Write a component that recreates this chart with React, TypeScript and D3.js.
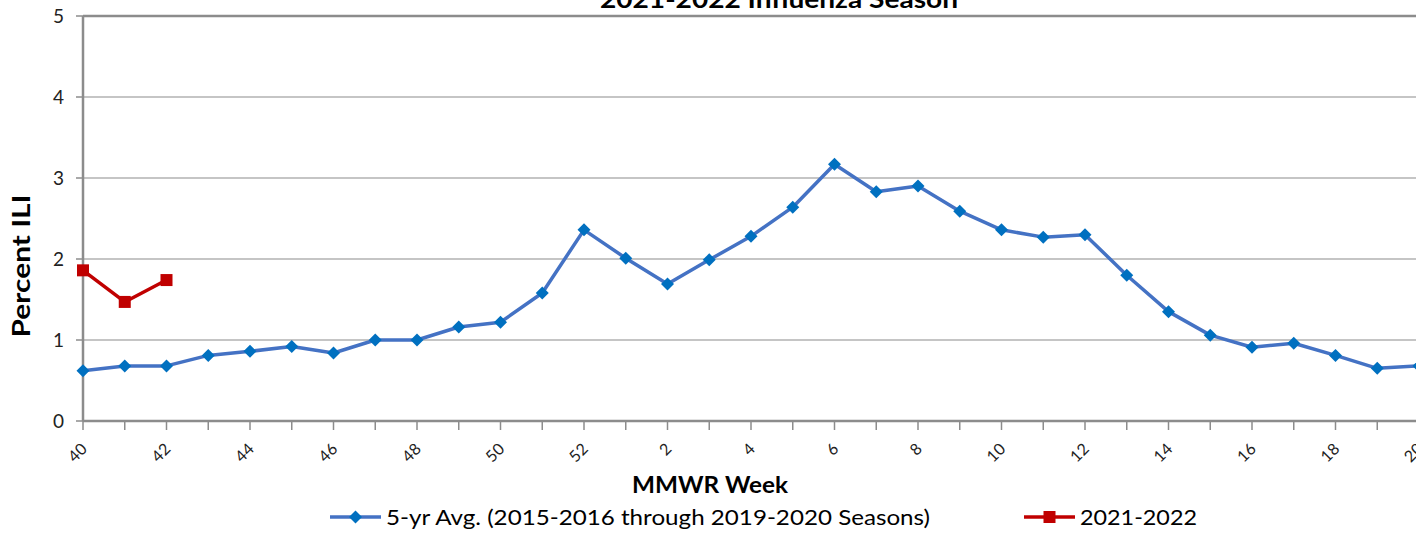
import React from "react";
import * as d3 from "d3";

const weeks: string[] = [
  "40","41","42","43","44","45","46","47","48","49","50","51","52",
  "1","2","3","4","5","6","7","8","9","10","11","12","13","14","15","16","17","18","19","20",
  "21","22","23","24","25","26","27","28","29","30","31","32","33","34","35","36","37","38","39",
];

const avgValues: number[] = [
  0.62, 0.68, 0.68, 0.81, 0.86, 0.92, 0.84, 1.0, 1.0, 1.16, 1.22, 1.58, 2.36,
  2.01, 1.69, 1.99, 2.28, 2.64, 3.17, 2.83, 2.9, 2.59, 2.36, 2.27, 2.3, 1.8,
  1.35, 1.06, 0.91, 0.96, 0.81, 0.65, 0.68,
];

const seasonValues: number[] = [1.86, 1.47, 1.74];

const yTicks: number[] = [0, 1, 2, 3, 4, 5];

const title = "2021-2022 Influenza Season";
const xTitle = "MMWR Week";
const yTitle = "Percent ILI";
const avgLabel = "5-yr Avg. (2015-2016 through 2019-2020 Seasons)";
const seasonLabel = "2021-2022";

const FONT = "Lato, 'Open Sans', 'Liberation Sans', sans-serif";
const GRID = "#8c8c8c";
const BLUE_LINE = "#4472C4";
const BLUE_MARK = "#0070C0";
const RED = "#C00000";

export default function App() {
  const W = 1416;
  const H = 533;
  const left = 83;
  const step = 41.75;
  const x = d3.scaleLinear().domain([0, weeks.length - 1]).range([left, left + step * (weeks.length - 1)]);
  const y = d3.scaleLinear().domain([0, 5]).range([421, 16]);

  const line = d3
    .line<number>()
    .x((_, i) => x(i))
    .y((d) => y(d));

  const diamond = (cx: number, cy: number, r: number) =>
    `M${cx},${cy - r}L${cx + r},${cy}L${cx},${cy + r}L${cx - r},${cy}Z`;

  return (
    <svg
      width={W}
      height={H}
      style={{ position: "absolute", left: 0, top: 0, background: "#fff" }}
      fontFamily={FONT}
    >
      <rect x={0} y={0} width={W} height={H} fill="#fff" />
      {/* title (cropped at top) */}
      <text x={779} y={8} textAnchor="middle" fontSize={24} fontWeight="bold" fill="#000" textLength={358} lengthAdjust="spacingAndGlyphs">
        {title}
      </text>

      {/* gridlines */}
      {yTicks.map((t) => (
        <line key={"g" + t} x1={left} x2={W} y1={y(t)} y2={y(t)} stroke={GRID} strokeWidth={t === 5 ? 2.5 : 1.2} />
      ))}

      {/* y axis */}
      <line x1={left} x2={left} y1={y(5)} y2={y(0)} stroke={GRID} strokeWidth={2.5} />
      {yTicks.map((t) => (
        <g key={"yt" + t}>
          <line x1={left - 7} x2={left} y1={y(t)} y2={y(t)} stroke={GRID} strokeWidth={1.5} />
          <text x={64} y={y(t)} dy="0.36em" textAnchor="end" fontSize={19} fill="#222">
            {t}
          </text>
        </g>
      ))}

      {/* x axis */}
      <line x1={left} x2={W} y1={y(0)} y2={y(0)} stroke={GRID} strokeWidth={2.5} />
      {weeks.map((w, i) => (
        <line key={"xt" + i} x1={x(i)} x2={x(i)} y1={y(0)} y2={y(0) + 9} stroke={GRID} strokeWidth={1.5} />
      ))}
      {weeks.map((w, i) =>
        i % 2 === 0 ? (
          <text
            key={"xl" + i}
            transform={`translate(${x(i) + 5},${y(0) + 29}) rotate(-45)`}
            textAnchor="end"
            fontSize={16}
            fill="#222"
          >
            {w}
          </text>
        ) : null
      )}

      {/* axis titles */}
      <text x={710} y={493} textAnchor="middle" fontSize={22} fontWeight="bold" fill="#000" textLength={156} lengthAdjust="spacingAndGlyphs">
        {xTitle}
      </text>
      <text
        transform={`translate(30,266) rotate(-90)`}
        textAnchor="middle"
        fontSize={24}
        fontWeight="bold"
        fill="#000"
        textLength={143}
        lengthAdjust="spacingAndGlyphs"
      >
        {yTitle}
      </text>

      {/* 5-yr avg series */}
      <path d={line(avgValues) || ""} fill="none" stroke={BLUE_LINE} strokeWidth={3.5} strokeLinejoin="round" />
      {avgValues.map((v, i) => (
        <path key={"d" + i} d={diamond(x(i), y(v), 6.5)} fill={BLUE_MARK} />
      ))}

      {/* 2021-2022 series */}
      <path d={line(seasonValues) || ""} fill="none" stroke={RED} strokeWidth={3.5} strokeLinejoin="round" />
      {seasonValues.map((v, i) => (
        <rect key={"s" + i} x={x(i) - 6} y={y(v) - 6} width={12} height={12} fill={RED} />
      ))}

      {/* legend */}
      <line x1={330} x2={381} y1={517} y2={517} stroke={BLUE_LINE} strokeWidth={3.5} />
      <path d={diamond(355.5, 517, 6.5)} fill={BLUE_MARK} />
      <text x={386} y={517} dy="0.35em" fontSize={22} fill="#000" textLength={544} lengthAdjust="spacingAndGlyphs">
        {avgLabel}
      </text>
      <line x1={1024} x2={1075} y1={517} y2={517} stroke={RED} strokeWidth={3.5} />
      <rect x={1043.5} y={511} width={12} height={12} fill={RED} />
      <text x={1080} y={517} dy="0.35em" fontSize={22} fill="#000" textLength={117} lengthAdjust="spacingAndGlyphs">
        {seasonLabel}
      </text>
    </svg>
  );
}
